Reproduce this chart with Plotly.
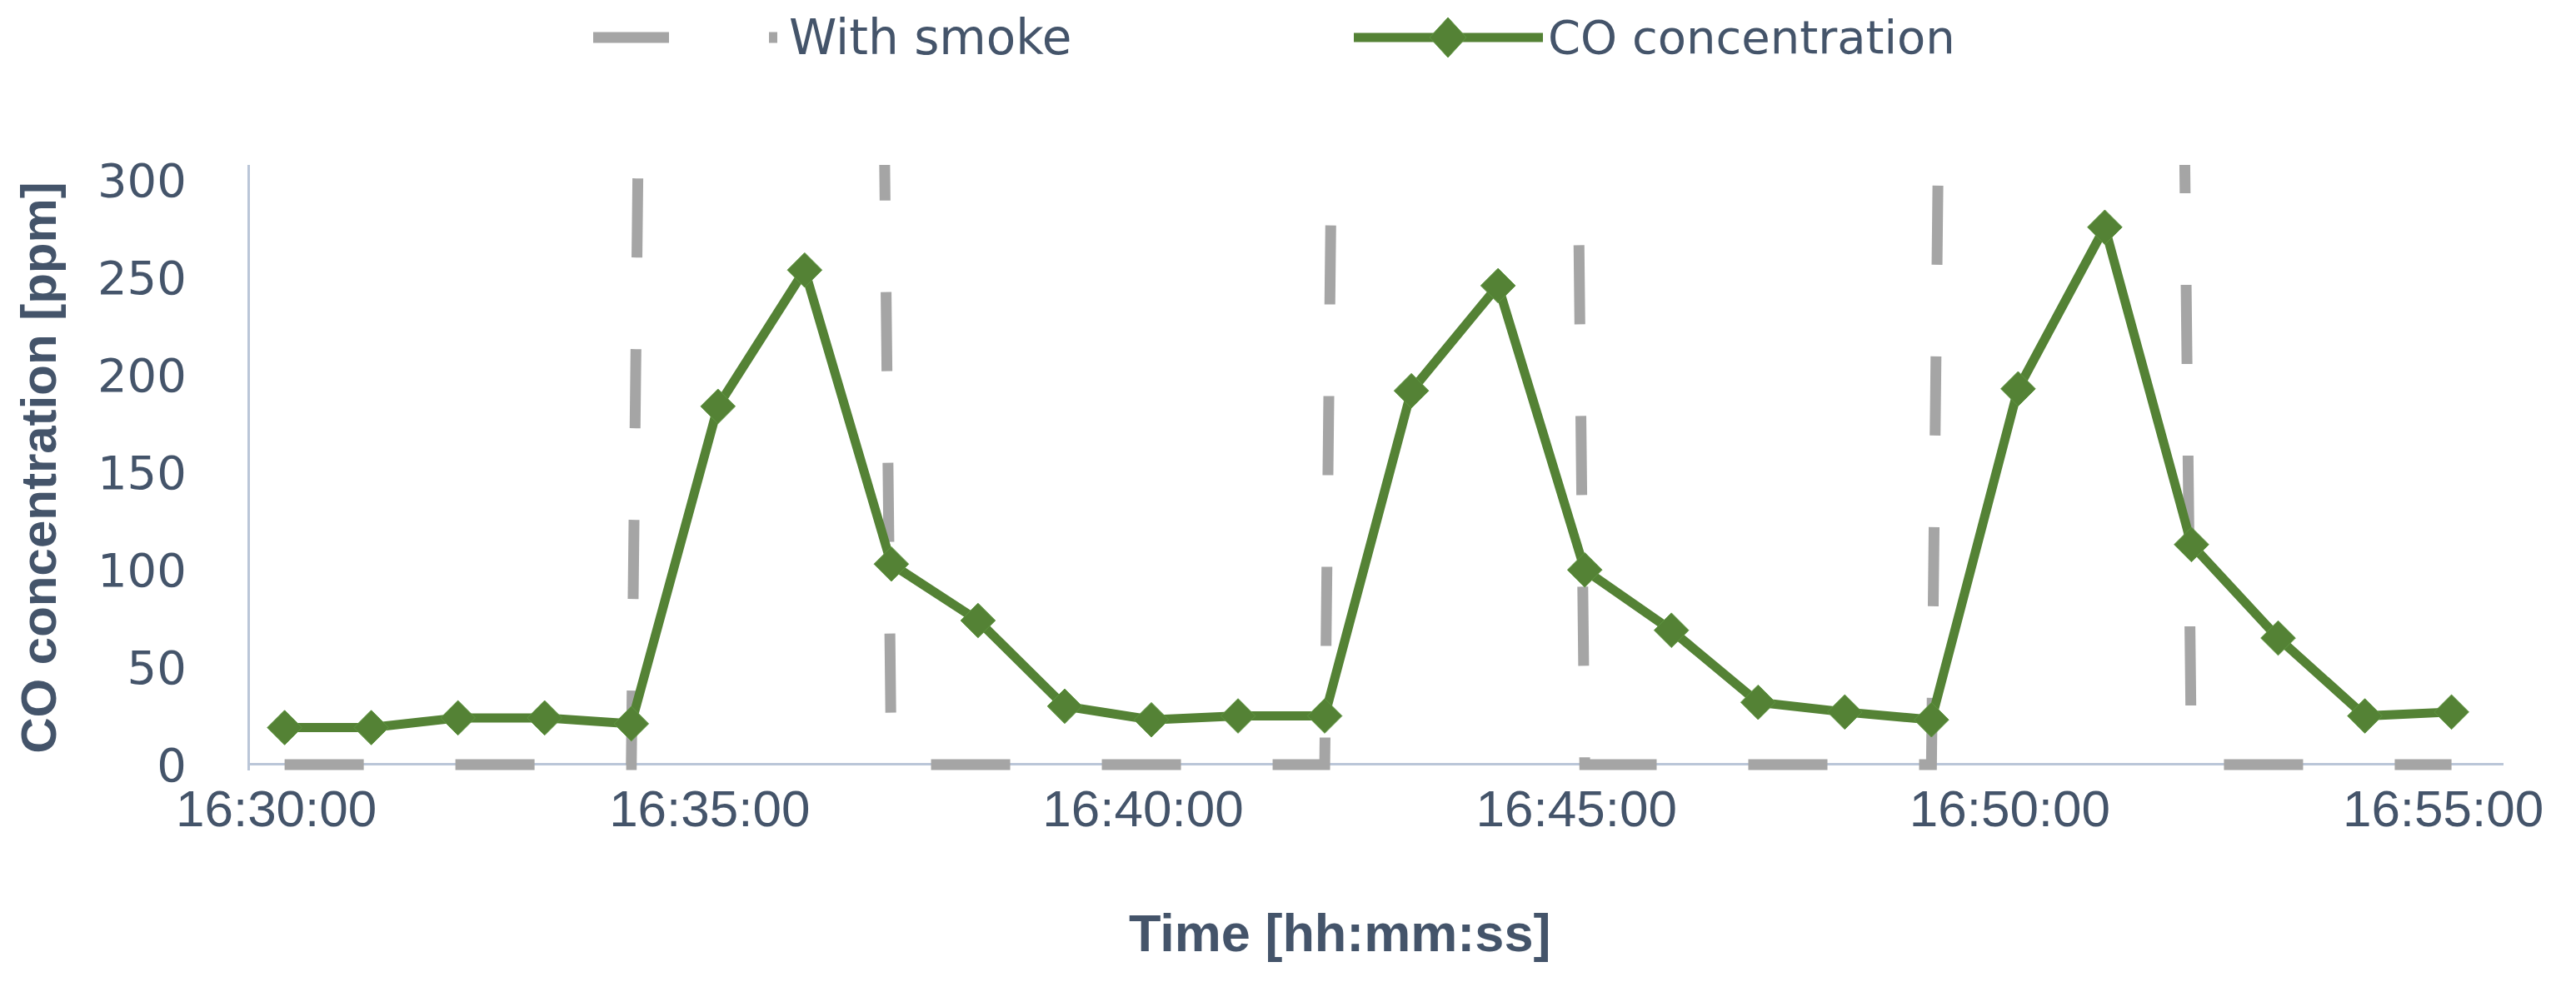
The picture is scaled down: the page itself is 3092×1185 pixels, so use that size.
import plotly.graph_objects as go
import pandas as pd

# -------------------------------
# Data
# -------------------------------
time_labels = [
    "16:30:00", "16:31:00", "16:32:00", "16:33:00", "16:34:00", "16:35:00",
    "16:36:00", "16:37:00", "16:38:00", "16:39:00", "16:40:00", "16:41:00",
    "16:42:00", "16:43:00", "16:44:00", "16:45:00", "16:46:00", "16:47:00",
    "16:48:00", "16:49:00", "16:50:00", "16:51:00", "16:52:00", "16:53:00",
    "16:54:00", "16:55:00",
]
co_ppm = [19, 19, 24, 24, 21, 184, 254, 103, 74, 30, 23, 25, 25,
          192, 246, 100, 69, 32, 27, 23, 193, 276, 113, 65, 25, 27]
# smoke indicator: 0 = off, a level far above the axis top = on
with_smoke = [0, 0, 0, 0, 0, 4000, 4000, 0, 0, 0, 0, 0, 0,
              4000, 4000, 0, 0, 0, 0, 0, 4000, 4000, 0, 0, 0, 0]
y_ticks = [0, 50, 100, 150, 200, 250, 300]
x_tick_labels = ["16:30:00", "16:35:00", "16:40:00", "16:45:00", "16:50:00", "16:55:00"]

day = "2020-01-01 "
times = pd.to_datetime([day + t for t in time_labels])
x_ticks = pd.to_datetime([day + t for t in x_tick_labels])

# -------------------------------
# Look
# -------------------------------
W, H = 3092, 1185
L, R, T, B = 292, 95, 190, 268
TEXT = "#44546A"
GREEN = "#548235"
GRAY = "#A5A5A5"
AXIS = "#BAC6D8"
SANS = "Liberation Sans, Arial, sans-serif"


def px(x):
    return (x - L) / (W - L - R)


def py(y):
    return (H - B - y) / (H - T - B)


fig = go.Figure()
fig.add_trace(go.Scatter(
    x=times, y=with_smoke, mode="lines", name="With smoke",
    line=dict(color=GRAY, width=13, dash="95px,110px"),
    showlegend=False,
))
fig.add_trace(go.Scatter(
    x=times, y=co_ppm, mode="lines+markers", name="CO concentration",
    line=dict(color=GREEN, width=11),
    marker=dict(symbol="diamond", size=32, color=GREEN,
                line=dict(color="#5F9641", width=1)),
    showlegend=False,
))

# hand-drawn legend to get the long Excel-style symbols
LEG = 37
leg_y = py(LEG)
shapes = [
    dict(type="line", xref="paper", yref="paper", x0=px(704), x1=px(925),
         y0=leg_y, y1=leg_y, line=dict(color=GRAY, width=13, dash="91px,120px")),
    dict(type="line", xref="paper", yref="paper", x0=px(1617), x1=px(1844),
         y0=leg_y, y1=leg_y, line=dict(color=GREEN, width=11)),
]
cx, hw, hh = 1730, 22, 24
shapes.append(dict(
    type="path", xref="paper", yref="paper",
    path=(f"M{px(cx - hw)},{leg_y} L{px(cx)},{py(LEG - hh)} "
          f"L{px(cx + hw)},{leg_y} L{px(cx)},{py(LEG + hh)} Z"),
    fillcolor=GREEN, line=dict(color="#5F9641", width=1),
))
annotations = [
    dict(text="With smoke", xref="paper", yref="paper", x=px(937), y=leg_y,
         xanchor="left", yanchor="middle", showarrow=False,
         font=dict(family="DejaVu Sans", size=58, color=TEXT)),
    dict(text="CO concentration", xref="paper", yref="paper", x=px(1848), y=leg_y,
         xanchor="left", yanchor="middle", showarrow=False,
         font=dict(family="DejaVu Sans", size=56, color=TEXT)),
    # x axis title, sits a little left of the plot centre in the original
    dict(text="Time [hh:mm:ss]", xref="paper", yref="paper", x=px(1600), y=py(1112),
         xanchor="center", yanchor="middle", showarrow=False,
         font=dict(family=SANS, size=63, color=TEXT, weight="bold")),
]

fig.update_layout(
    width=W, height=H,
    margin=dict(l=L, r=R, t=T, b=B),
    plot_bgcolor="white", paper_bgcolor="white",
    shapes=shapes, annotations=annotations,
    showlegend=False,
)
fig.update_xaxes(
    type="date",
    range=[day + "16:29:36", day + "16:55:36"],
    tickvals=x_ticks, ticktext=x_tick_labels,
    showgrid=False, showline=False, zeroline=False, ticks="",
    ticklabelstandoff=4, ticklabelshift=-10,
    tickfont=dict(family=SANS, size=62, color=TEXT),
)
fig.update_yaxes(
    range=[-3, 308],
    tickvals=y_ticks,
    showgrid=False, showline=True, linecolor=AXIS, linewidth=3,
    zeroline=True, zerolinecolor=AXIS, zerolinewidth=3, ticks="",
    ticklabelstandoff=62,
    tickfont=dict(family="DejaVu Sans", size=56, color=TEXT),
    title=dict(text="CO concentration [ppm]", standoff=30,
               font=dict(family=SANS, size=60, color=TEXT, weight="bold")),
)

fig.write_html("out.html")
